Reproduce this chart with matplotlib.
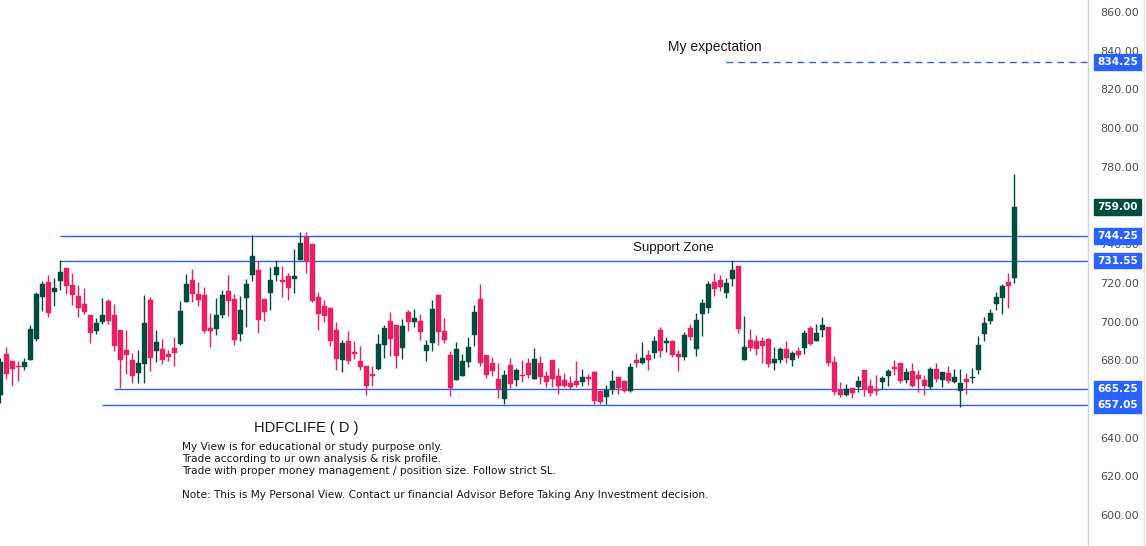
import matplotlib
matplotlib.use("Agg")
import matplotlib.pyplot as plt
import matplotlib.transforms as mtransforms
from matplotlib.lines import Line2D
import numpy as np

# daily OHLC (HDFCLIFE, D)
opens = [662.1, 683.2, 679.6, 677.2, 676.7, 680.1, 691.2, 712.7, 720.5, 715.5,
         721.1, 727.7, 718.9, 713.2, 709.1, 703.4, 695.3, 700.0, 710.6, 703.4,
         695.6, 685.3, 680.1, 673.6, 678.2, 711.1, 685.0, 685.8, 683.4, 686.5,
         688.4, 710.3, 721.5, 714.2, 713.7, 696.7, 696.3, 703.6, 715.8, 711.7,
         693.7, 712.4, 724.2, 726.7, 711.7, 714.9, 724.2, 721.5, 723.6, 722.2,
         731.8, 743.7, 740.1, 712.7, 708.0, 707.0, 695.6, 680.3, 690.0, 684.3,
         679.8, 677.2, 672.9, 675.7, 688.1, 700.3, 698.2, 686.5, 704.9, 700.0,
         700.3, 685.0, 689.1, 713.7, 695.1, 682.7, 670.0, 672.0, 679.3, 693.2,
         711.7, 682.7, 678.6, 670.3, 660.1, 677.5, 670.0, 672.5, 678.6, 670.5,
         678.6, 671.9, 680.1, 671.9, 669.8, 668.2, 669.3, 668.9, 671.5, 674.1,
         664.1, 661.2, 665.3, 671.3, 669.3, 664.3, 680.1, 678.8, 682.7, 683.9,
         695.6, 689.1, 690.0, 683.2, 681.9, 696.7, 686.0, 703.9, 707.0, 720.5,
         721.5, 714.9, 722.2, 728.7, 680.3, 690.5, 690.0, 690.0, 691.0, 678.8,
         680.3, 685.8, 680.3, 684.8, 686.5, 696.7, 690.1, 695.8, 697.2, 679.1,
         664.8, 662.2, 665.8, 666.3, 674.9, 666.7, 665.3, 668.7, 671.8, 676.5,
         678.6, 669.8, 674.4, 672.4, 669.8, 666.3, 675.5, 669.8, 673.4, 668.7,
         664.3, 670.3, 671.0, 675.0, 693.6, 700.3, 709.1, 712.3, 720.4, 722.7]
highs = [681.0, 687.0, 679.6, 679.6, 681.2, 698.2, 715.5, 721.0, 724.1, 722.5,
         731.8, 727.7, 725.3, 718.9, 717.4, 703.4, 701.8, 712.2, 711.7, 709.1,
         695.6, 695.6, 683.8, 685.3, 713.7, 712.7, 695.6, 691.0, 685.3, 692.2,
         710.6, 724.6, 727.2, 720.4, 717.9, 704.4, 712.2, 716.3, 724.1, 714.2,
         713.2, 722.0, 744.6, 731.3, 711.7, 728.2, 731.8, 728.7, 725.3, 737.5,
         746.3, 746.3, 740.1, 715.3, 711.2, 707.5, 699.8, 690.5, 695.1, 690.0,
         687.4, 677.2, 677.2, 693.6, 698.2, 704.9, 698.2, 701.3, 706.0, 706.5,
         703.9, 690.5, 711.2, 714.2, 701.8, 684.8, 689.4, 683.2, 692.0, 708.6,
         719.4, 682.7, 681.7, 678.6, 675.0, 681.2, 676.2, 680.3, 681.2, 686.3,
         682.2, 674.4, 680.1, 676.0, 673.6, 672.0, 679.6, 675.5, 672.9, 674.6,
         664.6, 667.2, 675.0, 671.3, 669.3, 678.6, 683.7, 689.4, 685.3, 692.5,
         697.2, 692.0, 690.5, 685.3, 694.6, 698.7, 704.4, 711.7, 721.0, 725.1,
         724.1, 722.5, 731.8, 728.7, 702.9, 696.2, 693.1, 692.0, 691.5, 687.0,
         687.0, 690.0, 684.8, 687.0, 695.6, 697.7, 698.7, 702.4, 697.2, 682.2,
         668.9, 667.9, 665.8, 671.8, 674.9, 670.3, 672.4, 671.8, 675.5, 680.1,
         678.6, 676.0, 678.6, 675.0, 672.4, 676.5, 678.6, 673.9, 677.0, 675.5,
         675.5, 673.4, 676.0, 692.5, 702.3, 706.5, 715.3, 719.4, 725.1, 776.3]
lows = [657.7, 670.3, 666.9, 669.5, 675.1, 680.1, 690.1, 705.6, 702.5, 708.2,
        716.1, 714.4, 708.7, 702.5, 703.7, 689.1, 693.7, 698.9, 698.9, 684.8,
        665.5, 672.9, 668.4, 668.4, 668.4, 674.6, 679.3, 678.1, 679.6, 677.2,
        687.9, 710.3, 710.1, 708.2, 694.3, 687.0, 693.2, 702.0, 703.0, 688.1,
        690.1, 697.4, 721.1, 694.3, 700.5, 706.2, 721.0, 712.9, 711.3, 714.9,
        731.8, 725.3, 709.9, 695.8, 699.8, 687.5, 675.1, 674.1, 678.2, 680.7,
        675.1, 662.2, 666.9, 675.1, 681.3, 682.4, 676.2, 680.8, 695.1, 697.4,
        690.6, 679.8, 685.0, 688.1, 689.1, 661.7, 670.0, 672.0, 676.7, 687.5,
        677.2, 671.0, 672.0, 660.7, 657.2, 665.5, 666.9, 668.9, 671.0, 670.5,
        667.9, 666.4, 666.4, 662.7, 666.4, 665.3, 666.4, 666.9, 667.4, 657.4,
        657.4, 657.4, 662.7, 662.7, 663.8, 663.8, 676.7, 678.2, 675.1, 681.3,
        681.9, 684.3, 681.9, 674.6, 680.3, 690.5, 682.4, 692.5, 704.6, 713.4,
        715.8, 712.4, 718.6, 694.3, 680.3, 685.0, 682.9, 678.8, 676.7, 675.1,
        678.8, 678.8, 677.2, 681.3, 683.4, 687.9, 690.1, 692.2, 677.2, 662.2,
        661.2, 661.7, 660.7, 663.4, 661.3, 661.3, 661.9, 665.3, 666.9, 672.4,
        668.2, 668.2, 666.2, 663.4, 661.9, 665.3, 668.9, 666.3, 668.2, 668.2,
        656.0, 662.4, 668.4, 672.9, 690.0, 698.7, 706.0, 703.9, 707.2, 720.1]
closes = [679.3, 672.9, 675.5, 676.7, 678.9, 696.2, 714.3, 719.4, 704.6, 717.4,
          725.6, 718.6, 713.6, 707.2, 705.0, 694.3, 699.3, 703.4, 700.5, 687.4,
          680.1, 682.7, 672.0, 678.4, 699.3, 681.3, 689.4, 680.3, 681.9, 683.9,
          705.5, 719.4, 714.4, 711.3, 695.3, 695.3, 703.4, 713.7, 710.8, 690.6,
          706.0, 719.4, 733.9, 701.0, 705.1, 721.5, 728.2, 720.5, 717.5, 723.6,
          740.6, 731.5, 710.5, 703.9, 702.9, 690.1, 680.8, 688.9, 679.8, 683.4,
          676.7, 666.9, 672.0, 688.4, 696.7, 691.2, 682.4, 697.7, 700.0, 701.8,
          694.8, 687.9, 706.5, 694.8, 690.6, 665.8, 685.8, 679.6, 686.9, 704.9,
          678.8, 672.5, 674.6, 665.3, 672.4, 667.9, 675.0, 672.0, 672.5, 680.7,
          671.5, 668.9, 670.5, 666.9, 666.9, 666.4, 667.4, 671.3, 670.5, 658.9,
          658.4, 664.6, 669.3, 665.8, 664.3, 676.5, 678.8, 681.2, 680.3, 690.0,
          684.8, 690.0, 682.9, 681.7, 693.1, 692.2, 700.8, 709.6, 719.4, 717.0,
          717.9, 719.9, 726.7, 696.3, 687.0, 686.5, 686.0, 687.5, 678.2, 680.8,
          686.0, 681.3, 683.9, 682.9, 694.1, 688.6, 694.1, 698.0, 678.8, 663.8,
          662.2, 665.3, 663.3, 669.3, 665.0, 662.9, 664.3, 670.8, 674.4, 675.5,
          669.4, 673.9, 666.7, 670.3, 666.7, 675.5, 670.3, 673.9, 669.3, 671.3,
          668.2, 668.9, 671.3, 687.9, 699.3, 704.4, 712.7, 718.4, 718.5, 759.0]

# horizontal levels: price, first bar index
level_prices = [744.25, 731.55, 665.25, 657.05]
level_starts = [10, 10, 19, 17]
target_price = 834.25
target_start = 121
last_price = 759.00
yticks = list(range(600, 861, 20))
hidden_ticks = [660, 760]   # fully covered by the price labels

UP = "#004d40"
DOWN = "#eb1f63"
BLUE = "#2962ff"
TXT = "#131722"

o = np.array(opens); h = np.array(highs); l = np.array(lows); c = np.array(closes)
idx = np.arange(len(o))
up = c >= o
col = np.where(up, UP, DOWN)

fig = plt.figure(figsize=(11.46, 5.46), dpi=100)
ax = fig.add_axes([0, 0, 1088 / 1146, 1])

ax.vlines(idx, l, h, colors=col, linewidth=1.0, zorder=2)
body_lo = np.minimum(o, c)
body_h = np.maximum(np.abs(c - o), 0.4)
ax.bar(idx, body_h, bottom=body_lo, width=0.78, color=col, edgecolor=col,
       linewidth=0.3, zorder=3)

xmax = 181.28
for p, s in zip(level_prices, level_starts):
    ax.hlines(p, s, xmax, colors=BLUE, linewidth=1.0, zorder=1)
ax.hlines(target_price, target_start, xmax, colors=BLUE, linewidth=1.0,
          linestyles=(0, (5, 3.5)), zorder=1)

ax.set_xlim(-0.05, xmax)
ax.set_ylim(584.0, 866.2)

ax.yaxis.tick_right()
ax.set_yticks(yticks)
ax.set_yticklabels(["" if v in hidden_ticks else f"{v:.2f}" for v in yticks])
ax.tick_params(axis="y", length=0, pad=9, labelsize=8, labelcolor="#4a4d57")
ax.set_xticks([])
for side in ["top", "left", "bottom"]:
    ax.spines[side].set_visible(False)
ax.spines["right"].set_color("#d1d4dc")
ax.spines["right"].set_linewidth(1.0)

trans = mtransforms.blended_transform_factory(ax.transAxes, ax.transData)
for p, colr in [(target_price, BLUE), (last_price, UP)] + [(p, BLUE) for p in level_prices]:
    ax.text(1.0085, p, f"{p:.2f}", transform=trans, ha="left", va="center",
            fontsize=7.6, fontweight="bold", color="white", clip_on=False, zorder=10,
            bbox=dict(boxstyle="square,pad=0.28", fc=colr, ec=colr))

fig.add_artist(Line2D([1143.5 / 1146] * 2, [0, 1], color="#e0e3eb", linewidth=1.0))

fig.text(715 / 1146, 1 - 47 / 546, "My expectation", ha="center", va="center",
         fontsize=10, color=TXT, family="Liberation Sans")
fig.text(673 / 1146, 1 - 248 / 546, "Support Zone", ha="center", va="center",
         fontsize=9.6, color=TXT, family="Liberation Sans")
fig.text(306 / 1146, 1 - 428 / 546, "HDFCLIFE ( D )", ha="center", va="center",
         fontsize=10.5, color=TXT, family="Liberation Sans")
notes = ["My View is for educational or study purpose only.",
         "Trade according to ur own analysis & risk profile.",
         "Trade with proper money management / position size. Follow strict SL."]
for i, line in enumerate(notes):
    fig.text(182 / 1146, 1 - (447 + 12 * i) / 546, line, ha="left", va="center",
             fontsize=7.6, color=TXT, family="DejaVu Sans")
fig.text(182 / 1146, 1 - 495 / 546,
         "Note: This is My Personal View. Contact ur financial Advisor Before Taking Any Investment decision.",
         ha="left", va="center", fontsize=7.6, color=TXT, family="DejaVu Sans")

fig.savefig("out.png", dpi=100)
